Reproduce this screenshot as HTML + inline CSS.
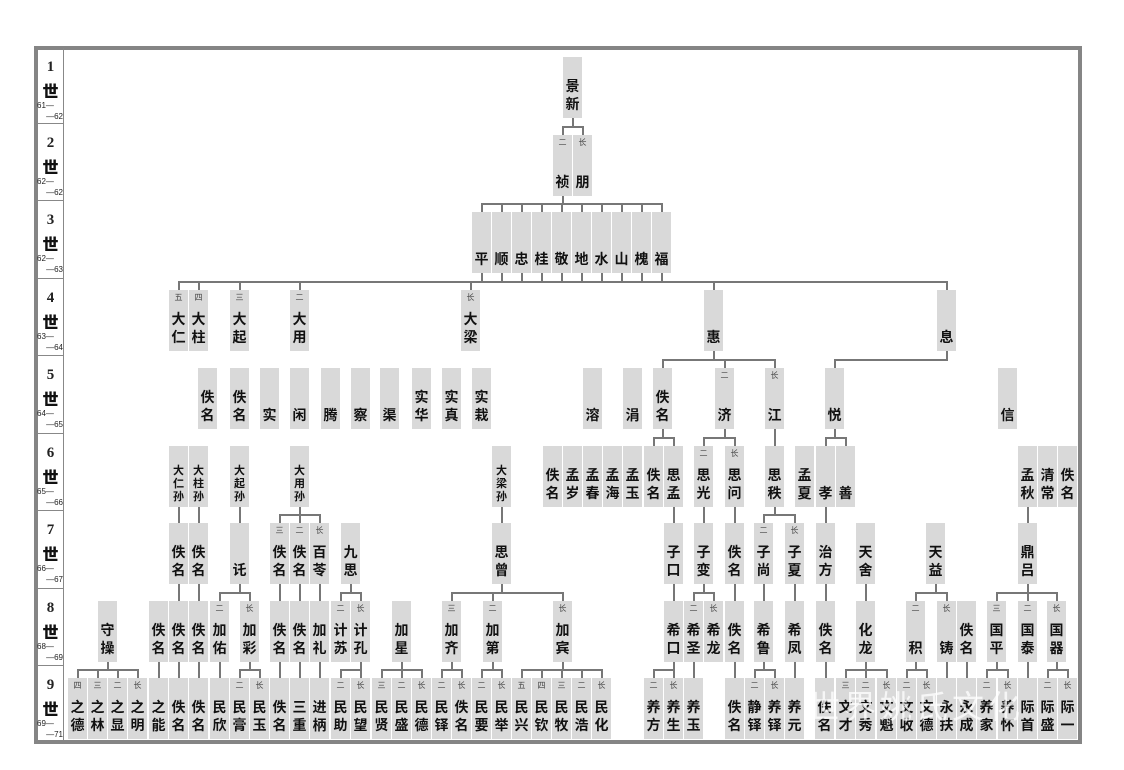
<!DOCTYPE html>
<html><head><meta charset="utf-8">
<style>
html,body{margin:0;padding:0;background:#fff;width:1124px;height:770px;overflow:hidden}
#f{position:absolute;left:34px;top:46px;width:1040px;height:690px;border:4px solid #858585;}
.g{position:absolute;left:38px;width:25px;border-bottom:1px solid #888;font-family:"Liberation Serif","Noto Serif CJK SC",serif;color:#222}
.g .n{position:absolute;left:0;width:25px;top:11px;text-align:center;font-weight:bold;font-size:15px}
.g .s{position:absolute;left:0;width:25px;top:30px;text-align:center;font-weight:900;font-size:16px;font-family:"Noto Sans CJK SC",sans-serif;color:#111}
.g .a{position:absolute;left:-1px;top:53px;font-size:8px;font-family:"Liberation Sans",sans-serif}
.g .b{position:absolute;right:0;top:64px;font-size:8px;font-family:"Liberation Sans",sans-serif}
#col{position:absolute;left:63px;top:48px;width:1px;height:692px;background:#888}
.c{position:absolute;width:19px;height:61px;background:#d9d9d9;font-family:"Liberation Sans","Noto Sans CJK SC",sans-serif;color:#111}
.c b{position:absolute;left:0;bottom:5px;width:19px;text-align:center;font-size:14px;line-height:18px;font-weight:bold}
.c i{position:absolute;left:0;top:2px;width:19px;text-align:center;font-size:8px;font-style:normal;color:#444}
.c.s b{font-size:11px;line-height:13px;bottom:3px}
.l{position:absolute;background:#777}
.r1{top:57px}.r2{top:135px}.r3{top:212px}.r4{top:290px}.r5{top:368px}.r6{top:446px}.r7{top:523px}.r8{top:601px}.r9{top:678px}
#wm{position:absolute;left:808px;top:682px;font-family:"Noto Sans CJK SC",sans-serif;font-size:32px;color:rgba(255,255,255,0.75);letter-spacing:4px;white-space:nowrap}
</style></head><body>
<div id="f"></div>
<div id="col"></div>
<div class="g" style="top:48px;height:75px"><div class="n">1</div><div class="s">世</div><div class="a">61—</div><div class="b">—62</div></div>
<div class="g" style="top:124px;height:76px"><div class="n">2</div><div class="s">世</div><div class="a">62—</div><div class="b">—62</div></div>
<div class="g" style="top:201px;height:77px"><div class="n">3</div><div class="s">世</div><div class="a">62—</div><div class="b">—63</div></div>
<div class="g" style="top:279px;height:76px"><div class="n">4</div><div class="s">世</div><div class="a">63—</div><div class="b">—64</div></div>
<div class="g" style="top:356px;height:77px"><div class="n">5</div><div class="s">世</div><div class="a">64—</div><div class="b">—65</div></div>
<div class="g" style="top:434px;height:76px"><div class="n">6</div><div class="s">世</div><div class="a">65—</div><div class="b">—66</div></div>
<div class="g" style="top:511px;height:77px"><div class="n">7</div><div class="s">世</div><div class="a">66—</div><div class="b">—67</div></div>
<div class="g" style="top:589px;height:76px"><div class="n">8</div><div class="s">世</div><div class="a">68—</div><div class="b">—69</div></div>
<div class="g" style="top:666px;height:74px;border-bottom:none"><div class="n">9</div><div class="s">世</div><div class="a">69—</div><div class="b">—71</div></div>

<div class="c r1" style="left:563px"><b>景<br>新</b></div>
<div class="c r2" style="left:553px"><i>二</i><b>祯</b></div>
<div class="c r2" style="left:573px"><i>长</i><b>朋</b></div>
<div class="c r3" style="left:472px"><b>平</b></div>
<div class="c r3" style="left:492px"><b>顺</b></div>
<div class="c r3" style="left:512px"><b>忠</b></div>
<div class="c r3" style="left:532px"><b>桂</b></div>
<div class="c r3" style="left:552px"><b>敬</b></div>
<div class="c r3" style="left:572px"><b>地</b></div>
<div class="c r3" style="left:592px"><b>水</b></div>
<div class="c r3" style="left:612px"><b>山</b></div>
<div class="c r3" style="left:632px"><b>槐</b></div>
<div class="c r3" style="left:652px"><b>福</b></div>
<div class="c r4" style="left:169px"><i>五</i><b>大<br>仁</b></div>
<div class="c r4" style="left:189px"><i>四</i><b>大<br>柱</b></div>
<div class="c r4" style="left:230px"><i>三</i><b>大<br>起</b></div>
<div class="c r4" style="left:290px"><i>二</i><b>大<br>用</b></div>
<div class="c r4" style="left:461px"><i>长</i><b>大<br>梁</b></div>
<div class="c r4" style="left:704px"><b>惠</b></div>
<div class="c r4" style="left:937px"><b>息</b></div>
<div class="c r5" style="left:198px"><b>佚<br>名</b></div>
<div class="c r5" style="left:230px"><b>佚<br>名</b></div>
<div class="c r5" style="left:260px"><b>实</b></div>
<div class="c r5" style="left:290px"><b>闲</b></div>
<div class="c r5" style="left:321px"><b>腾</b></div>
<div class="c r5" style="left:351px"><b>察</b></div>
<div class="c r5" style="left:380px"><b>渠</b></div>
<div class="c r5" style="left:412px"><b>实<br>华</b></div>
<div class="c r5" style="left:442px"><b>实<br>真</b></div>
<div class="c r5" style="left:472px"><b>实<br>栽</b></div>
<div class="c r5" style="left:583px"><b>溶</b></div>
<div class="c r5" style="left:623px"><b>涓</b></div>
<div class="c r5" style="left:653px"><b>佚<br>名</b></div>
<div class="c r5" style="left:715px"><i>二</i><b>济</b></div>
<div class="c r5" style="left:765px"><i>长</i><b>江</b></div>
<div class="c r5" style="left:825px"><b>悦</b></div>
<div class="c r5" style="left:998px"><b>信</b></div>
<div class="c r6 s" style="left:169px"><b>大<br>仁<br>孙</b></div>
<div class="c r6 s" style="left:189px"><b>大<br>柱<br>孙</b></div>
<div class="c r6 s" style="left:230px"><b>大<br>起<br>孙</b></div>
<div class="c r6 s" style="left:290px"><b>大<br>用<br>孙</b></div>
<div class="c r6 s" style="left:492px"><b>大<br>梁<br>孙</b></div>
<div class="c r6" style="left:543px"><b>佚<br>名</b></div>
<div class="c r6" style="left:563px"><b>孟<br>岁</b></div>
<div class="c r6" style="left:583px"><b>孟<br>春</b></div>
<div class="c r6" style="left:603px"><b>孟<br>海</b></div>
<div class="c r6" style="left:623px"><b>孟<br>玉</b></div>
<div class="c r6" style="left:644px"><b>佚<br>名</b></div>
<div class="c r6" style="left:664px"><b>思<br>孟</b></div>
<div class="c r6" style="left:694px"><i>二</i><b>思<br>光</b></div>
<div class="c r6" style="left:725px"><i>长</i><b>思<br>问</b></div>
<div class="c r6" style="left:765px"><b>思<br>秩</b></div>
<div class="c r6" style="left:795px"><b>孟<br>夏</b></div>
<div class="c r6" style="left:816px"><b>孝</b></div>
<div class="c r6" style="left:836px"><b>善</b></div>
<div class="c r6" style="left:1018px"><b>孟<br>秋</b></div>
<div class="c r6" style="left:1038px"><b>清<br>常</b></div>
<div class="c r6" style="left:1058px"><b>佚<br>名</b></div>
<div class="c r7" style="left:169px"><b>佚<br>名</b></div>
<div class="c r7" style="left:189px"><b>佚<br>名</b></div>
<div class="c r7" style="left:230px"><b>讬</b></div>
<div class="c r7" style="left:270px"><i>三</i><b>佚<br>名</b></div>
<div class="c r7" style="left:290px"><i>二</i><b>佚<br>名</b></div>
<div class="c r7" style="left:310px"><i>长</i><b>百<br>苓</b></div>
<div class="c r7" style="left:341px"><b>九<br>思</b></div>
<div class="c r7" style="left:492px"><b>思<br>曾</b></div>
<div class="c r7" style="left:664px"><b>子<br>口</b></div>
<div class="c r7" style="left:694px"><b>子<br>变</b></div>
<div class="c r7" style="left:725px"><b>佚<br>名</b></div>
<div class="c r7" style="left:754px"><i>二</i><b>子<br>尚</b></div>
<div class="c r7" style="left:785px"><i>长</i><b>子<br>夏</b></div>
<div class="c r7" style="left:816px"><b>治<br>方</b></div>
<div class="c r7" style="left:856px"><b>天<br>舍</b></div>
<div class="c r7" style="left:926px"><b>天<br>益</b></div>
<div class="c r7" style="left:1018px"><b>鼎<br>吕</b></div>
<div class="c r8" style="left:98px"><b>守<br>操</b></div>
<div class="c r8" style="left:149px"><b>佚<br>名</b></div>
<div class="c r8" style="left:169px"><b>佚<br>名</b></div>
<div class="c r8" style="left:189px"><b>佚<br>名</b></div>
<div class="c r8" style="left:210px"><i>二</i><b>加<br>佑</b></div>
<div class="c r8" style="left:240px"><i>长</i><b>加<br>彩</b></div>
<div class="c r8" style="left:270px"><b>佚<br>名</b></div>
<div class="c r8" style="left:290px"><b>佚<br>名</b></div>
<div class="c r8" style="left:310px"><b>加<br>礼</b></div>
<div class="c r8" style="left:331px"><i>二</i><b>计<br>苏</b></div>
<div class="c r8" style="left:351px"><i>长</i><b>计<br>孔</b></div>
<div class="c r8" style="left:392px"><b>加<br>星</b></div>
<div class="c r8" style="left:442px"><i>三</i><b>加<br>齐</b></div>
<div class="c r8" style="left:483px"><i>二</i><b>加<br>第</b></div>
<div class="c r8" style="left:553px"><i>长</i><b>加<br>宾</b></div>
<div class="c r8" style="left:664px"><b>希<br>口</b></div>
<div class="c r8" style="left:684px"><i>二</i><b>希<br>圣</b></div>
<div class="c r8" style="left:704px"><i>长</i><b>希<br>龙</b></div>
<div class="c r8" style="left:725px"><b>佚<br>名</b></div>
<div class="c r8" style="left:754px"><b>希<br>鲁</b></div>
<div class="c r8" style="left:785px"><b>希<br>凤</b></div>
<div class="c r8" style="left:816px"><b>佚<br>名</b></div>
<div class="c r8" style="left:856px"><b>化<br>龙</b></div>
<div class="c r8" style="left:906px"><i>二</i><b>积</b></div>
<div class="c r8" style="left:937px"><i>长</i><b>铸</b></div>
<div class="c r8" style="left:957px"><b>佚<br>名</b></div>
<div class="c r8" style="left:987px"><i>三</i><b>国<br>平</b></div>
<div class="c r8" style="left:1018px"><i>二</i><b>国<br>泰</b></div>
<div class="c r8" style="left:1047px"><i>长</i><b>国<br>器</b></div>
<div class="c r9" style="left:68px"><i>四</i><b>之<br>德</b></div>
<div class="c r9" style="left:88px"><i>三</i><b>之<br>林</b></div>
<div class="c r9" style="left:108px"><i>二</i><b>之<br>显</b></div>
<div class="c r9" style="left:128px"><i>长</i><b>之<br>明</b></div>
<div class="c r9" style="left:149px"><b>之<br>能</b></div>
<div class="c r9" style="left:169px"><b>佚<br>名</b></div>
<div class="c r9" style="left:189px"><b>佚<br>名</b></div>
<div class="c r9" style="left:210px"><b>民<br>欣</b></div>
<div class="c r9" style="left:230px"><i>二</i><b>民<br>膏</b></div>
<div class="c r9" style="left:250px"><i>长</i><b>民<br>玉</b></div>
<div class="c r9" style="left:270px"><b>佚<br>名</b></div>
<div class="c r9" style="left:290px"><b>三<br>重</b></div>
<div class="c r9" style="left:310px"><b>进<br>柄</b></div>
<div class="c r9" style="left:331px"><i>二</i><b>民<br>助</b></div>
<div class="c r9" style="left:351px"><i>长</i><b>民<br>望</b></div>
<div class="c r9" style="left:372px"><i>三</i><b>民<br>贤</b></div>
<div class="c r9" style="left:392px"><i>二</i><b>民<br>盛</b></div>
<div class="c r9" style="left:412px"><i>长</i><b>民<br>德</b></div>
<div class="c r9" style="left:432px"><i>二</i><b>民<br>铎</b></div>
<div class="c r9" style="left:452px"><i>长</i><b>佚<br>名</b></div>
<div class="c r9" style="left:472px"><i>二</i><b>民<br>要</b></div>
<div class="c r9" style="left:492px"><i>长</i><b>民<br>举</b></div>
<div class="c r9" style="left:512px"><i>五</i><b>民<br>兴</b></div>
<div class="c r9" style="left:532px"><i>四</i><b>民<br>钦</b></div>
<div class="c r9" style="left:552px"><i>三</i><b>民<br>牧</b></div>
<div class="c r9" style="left:572px"><i>二</i><b>民<br>浩</b></div>
<div class="c r9" style="left:592px"><i>长</i><b>民<br>化</b></div>
<div class="c r9" style="left:644px"><i>二</i><b>养<br>方</b></div>
<div class="c r9" style="left:664px"><i>长</i><b>养<br>生</b></div>
<div class="c r9" style="left:684px"><b>养<br>玉</b></div>
<div class="c r9" style="left:725px"><b>佚<br>名</b></div>
<div class="c r9" style="left:745px"><i>二</i><b>静<br>铎</b></div>
<div class="c r9" style="left:765px"><i>长</i><b>养<br>铎</b></div>
<div class="c r9" style="left:785px"><b>养<br>元</b></div>
<div class="c r9" style="left:815px"><b>佚<br>名</b></div>
<div class="c r9" style="left:836px"><i>三</i><b>文<br>才</b></div>
<div class="c r9" style="left:856px"><i>二</i><b>文<br>秀</b></div>
<div class="c r9" style="left:877px"><i>长</i><b>文<br>魁</b></div>
<div class="c r9" style="left:897px"><i>二</i><b>文<br>收</b></div>
<div class="c r9" style="left:917px"><i>长</i><b>文<br>德</b></div>
<div class="c r9" style="left:937px"><b>永<br>扶</b></div>
<div class="c r9" style="left:957px"><b>永<br>成</b></div>
<div class="c r9" style="left:977px"><i>二</i><b>养<br>家</b></div>
<div class="c r9" style="left:998px"><i>长</i><b>养<br>怀</b></div>
<div class="c r9" style="left:1018px"><b>际<br>首</b></div>
<div class="c r9" style="left:1038px"><i>二</i><b>际<br>盛</b></div>
<div class="c r9" style="left:1058px"><i>长</i><b>际<br>一</b></div>
<div id="wm">世界姚氏文化</div>
<script>
(function(){
var L=[];
function V(x,a,b){L.push('<div class="l" style="left:'+(x-1)+'px;top:'+a+'px;width:2px;height:'+(b-a)+'px"></div>');}
function H(a,b,y){L.push('<div class="l" style="left:'+(a-1)+'px;top:'+(y-1)+'px;width:'+(b-a+2)+'px;height:2px"></div>');}
var T=[0,57,135,212,290,368,446,523,601,678];
function G(p,r,cs){var pb=T[r]+61,ct=T[r+1],h=ct-8;
 if(cs.length==1&&cs[0]==p){V(p,pb,ct);return;}
 V(p,pb,h);var mn=Math.min.apply(null,cs.concat([p])),mx=Math.max.apply(null,cs.concat([p]));H(mn,mx,h);
 cs.forEach(function(c){V(c,h,ct);});}
G(572.5,1,[562.5,582.5]);
var r3=[];for(var k=0;k<10;k++)r3.push(481.5+20*k);
G(562.5,2,r3);
r3.forEach(function(c){V(c,273,282);});
H(178.5,946.5,282);
[178.5,198.5,239.5,299.5,470.5,713.5,946.5].forEach(function(c){V(c,282,290);});
G(713.5,4,[662.5,724.5,774.5]);G(946.5,4,[834.5]);
G(662.5,5,[653.5,673.5]);G(724.5,5,[703.5,734.5]);G(774.5,5,[774.5]);G(834.5,5,[825.5,845.5]);
[178.5,198.5,239.5,501.5,673.5,703.5,734.5,825.5,1027.5].forEach(function(c){G(c,6,[c]);});
G(299.5,6,[279.5,299.5,319.5]);G(774.5,6,[763.5,794.5]);
[178.5,198.5,279.5,299.5,319.5,673.5,734.5,763.5,794.5,825.5,865.5].forEach(function(c){G(c,7,[c]);});
G(239.5,7,[219.5,249.5]);G(350.5,7,[340.5,360.5]);G(501.5,7,[451.5,492.5,562.5]);
G(703.5,7,[693.5,713.5]);G(935.5,7,[915.5,946.5]);G(1027.5,7,[996.5,1027.5,1056.5]);
G(107.5,8,[77.5,97.5,117.5,137.5]);
[158.5,178.5,198.5,219.5,279.5,299.5,319.5,693.5,734.5,794.5,825.5,946.5,966.5,1027.5].forEach(function(c){G(c,8,[c]);});
G(249.5,8,[239.5,259.5]);G(360.5,8,[340.5,360.5]);G(401.5,8,[381.5,401.5,421.5]);
G(451.5,8,[441.5,461.5]);G(492.5,8,[481.5,501.5]);G(562.5,8,[521.5,541.5,561.5,581.5,601.5]);
G(673.5,8,[653.5,673.5]);G(763.5,8,[754.5,774.5]);G(865.5,8,[845.5,865.5,886.5]);
G(915.5,8,[906.5,926.5]);G(996.5,8,[986.5,1007.5]);G(1056.5,8,[1047.5,1067.5]);
var d=document.createElement('div');d.innerHTML=L.join('');document.body.insertBefore(d,document.body.firstChild);
})();
</script>
</body></html>
